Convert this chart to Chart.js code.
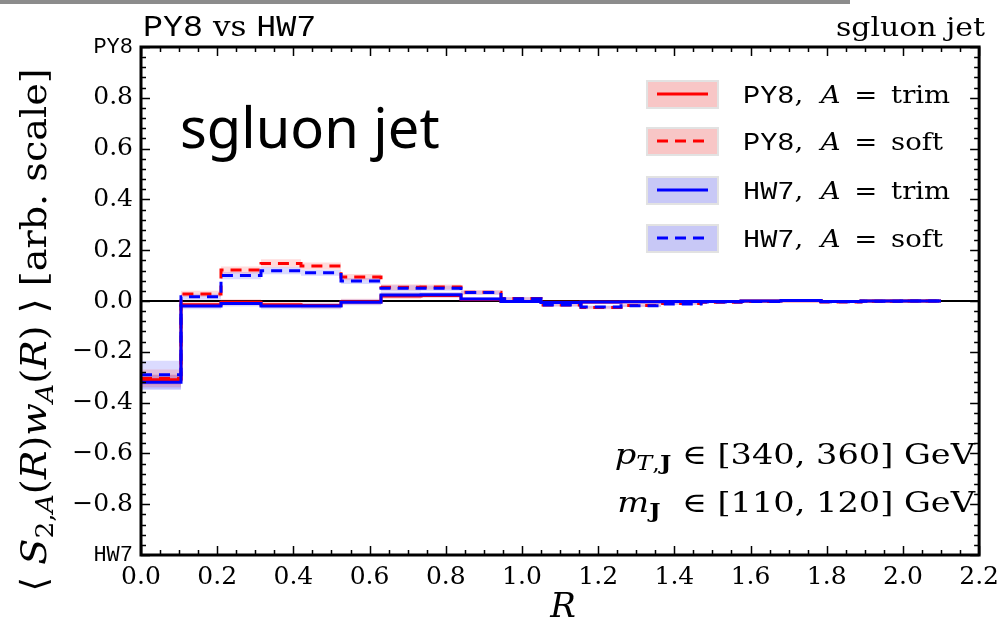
<!DOCTYPE html>
<html>
<head>
<meta charset="utf-8">
<title>sgluon jet</title>
<script src="https://cdn.jsdelivr.net/npm/chart.js@4.4.1/dist/chart.umd.min.js"></script>
<style>
  body { margin: 0; background: #fff; }
  canvas { display: block; }
</style>
</head>
<body>
<canvas id="sgluonChart" width="1006" height="629"></canvas>
<script>
// Bordes de los bins en R
const binEdges = [0, 0.105, 0.21, 0.315, 0.42, 0.525, 0.63, 0.735, 0.84, 0.945, 1.05,
                  1.155, 1.26, 1.365, 1.47, 1.575, 1.68, 1.785, 1.89, 1.995, 2.1];

// <S_2,A(R) w_A(R)> por bin
const py8Trim = [-0.31, -0.015, -0.005, -0.015, -0.018, -0.003, 0.02, 0.022, 0.006, -0.002,
                 -0.005, -0.004, -0.003, -0.002, -0.002, 0, 0.001, -0.002, 0, 0];
const py8Soft = [-0.305, 0.028, 0.122, 0.148, 0.138, 0.094, 0.054, 0.055, 0.034, 0.01,
                 -0.016, -0.026, -0.018, -0.01, -0.005, -0.002, 0.002, -0.004, -0.001, 0];
const hw7Trim = [-0.32, -0.02, -0.01, -0.02, -0.02, -0.005, 0.024, 0.025, 0.008, -0.002,
                 -0.006, -0.004, -0.003, -0.002, -0.002, 0, 0.002, -0.002, 0, 0];
const hw7Soft = [-0.29, 0.017, 0.1, 0.119, 0.111, 0.079, 0.05, 0.05, 0.033, 0.009,
                 -0.016, -0.024, -0.019, -0.012, -0.004, -0.002, 0.002, -0.003, -0.001, 0];

// Incertidumbres (mitad de la banda)
const py8TrimErr = [0.02, 0.012, 0.012, 0.012, 0.012, 0.012, 0.012, 0.01, 0.008, 0.006,
                    0.006, 0.005, 0.005, 0.004, 0.004, 0.003, 0.003, 0.003, 0.002, 0.002];
const py8SoftErr = [0.035, 0.012, 0.014, 0.016, 0.014, 0.012, 0.012, 0.01, 0.008, 0.006,
                    0.006, 0.006, 0.005, 0.004, 0.004, 0.003, 0.003, 0.003, 0.002, 0.002];
const hw7TrimErr = [0.03, 0.012, 0.012, 0.012, 0.012, 0.012, 0.012, 0.01, 0.008, 0.006,
                    0.006, 0.005, 0.005, 0.004, 0.004, 0.003, 0.003, 0.003, 0.002, 0.002];
const hw7SoftErr = [0.055, 0.012, 0.014, 0.014, 0.012, 0.012, 0.012, 0.01, 0.008, 0.006,
                    0.006, 0.006, 0.005, 0.004, 0.004, 0.003, 0.003, 0.003, 0.002, 0.002];

// Etiquetas
const generators = ['PY8', 'PY8', 'HW7', 'HW7'];
const grooming = ['trim', 'soft', 'trim', 'soft'];
const yEndLabels = ['HW7', 'PY8'];

const RED = '#ff0000';
const BLUE = '#0000ff';
const DASH = [11, 7];

const SERIF = '"DejaVu Serif"';
const MONO = '"Liberation Mono"';
const serif = s => s + 'px ' + SERIF;
const italic = s => 'italic ' + s + 'px ' + SERIF;
const bold = s => 'bold ' + s + 'px ' + SERIF;
const mono = s => s + 'px ' + MONO;

function stepPoints(values) {
    return binEdges.map((x, i) => ({ x: x, y: values[Math.min(i, values.length - 1)] }));
}

function shifted(values, errs, sign) {
    return values.map((v, i) => v + sign * errs[i]);
}

// Banda: dataset inferior + superior rellenado hasta el anterior
function band(values, errs, color) {
    return [
        { data: stepPoints(shifted(values, errs, -1)), borderColor: 'transparent', borderWidth: 0, fill: false, order: 10 },
        { data: stepPoints(shifted(values, errs, 1)), borderColor: 'transparent', borderWidth: 0, fill: '-1', backgroundColor: color, order: 10 }
    ];
}

function fmt(v) {
    if (Math.abs(v) < 1e-9) v = 0;
    return v.toFixed(1).replace('-', '\u2212');
}

// Texto con varias fuentes en una misma línea
function drawRuns(ctx, runs, x, y, align, sx) {
    sx = sx || 1;
    let w = 0;
    runs.forEach(r => { ctx.font = r.f; w += ctx.measureText(r.t).width; });
    let start = x;
    if (align === 'right') start = x - w * sx;
    if (align === 'center') start = x - w * sx / 2;
    ctx.save();
    ctx.translate(start, y);
    ctx.scale(sx, 1);
    ctx.textAlign = 'left';
    ctx.textBaseline = 'alphabetic';
    let cx = 0;
    runs.forEach(r => {
        ctx.font = r.f;
        ctx.fillText(r.t, cx, r.dy || 0);
        cx += ctx.measureText(r.t).width;
    });
    ctx.restore();
}

const decor = {
    id: 'decor',
    afterDraw(chart) {
        const ctx = chart.ctx;
        const a = chart.chartArea;
        const xs = chart.scales.x;
        const ys = chart.scales.y;

        ctx.save();
        ctx.fillStyle = '#8c8c8c';
        ctx.fillRect(0, 0, 850, 4);

        // Marcas hacia dentro en los cuatro lados
        ctx.strokeStyle = '#000';
        ctx.lineWidth = 1.5;
        ctx.beginPath();
        for (let i = 0; i <= 44; i++) {
            const px = Math.round(xs.getPixelForValue(i * 0.05)) + 0.5;
            const len = i % 4 === 0 ? 9 : 5;
            ctx.moveTo(px, a.bottom); ctx.lineTo(px, a.bottom - len);
            ctx.moveTo(px, a.top); ctx.lineTo(px, a.top + len);
        }
        for (let j = 0; j <= 50; j++) {
            const py = Math.round(ys.getPixelForValue(-1 + j * 0.04)) + 0.5;
            const len = j % 5 === 0 ? 9 : 5;
            ctx.moveTo(a.left, py); ctx.lineTo(a.left + len, py);
            ctx.moveTo(a.right, py); ctx.lineTo(a.right - len, py);
        }
        ctx.stroke();
        ctx.lineWidth = 3;
        ctx.strokeRect(a.left, a.top, a.right - a.left, a.bottom - a.top);

        ctx.fillStyle = '#000';

        // Títulos superiores
        drawRuns(ctx, [{ t: 'PY8', f: mono(29) }, { t: ' vs ', f: serif(27) }, { t: 'HW7', f: mono(29) }], 143, 36, 'left', 1.15);
        drawRuns(ctx, [{ t: 'sgluon jet', f: serif(26) }], 985, 36, 'right', 1.15);

        ctx.font = '56px "Noto Sans"';
        ctx.fillText('sgluon jet', 180, 148);

        // Leyenda
        const rows = [94, 141, 190, 238];
        rows.forEach((cy, k) => {
            const isPy = generators[k] === 'PY8';
            ctx.fillStyle = isPy ? '#f8c6c6' : '#c8c8f6';
            ctx.fillRect(647, cy - 13, 71, 27);
            ctx.strokeStyle = '#e2e2e2';
            ctx.lineWidth = 2;
            ctx.strokeRect(647, cy - 13, 71, 27);
            ctx.strokeStyle = isPy ? RED : BLUE;
            ctx.lineWidth = 3;
            ctx.setLineDash(grooming[k] === 'soft' ? DASH : []);
            ctx.beginPath();
            ctx.moveTo(657, cy); ctx.lineTo(708, cy);
            ctx.stroke();
            ctx.setLineDash([]);
            ctx.fillStyle = '#000';
            drawRuns(ctx, [
                { t: generators[k], f: mono(26) },
                { t: ',  ', f: serif(25) },
                { t: 'A', f: italic(25) },
                { t: '\u2002=\u2002', f: serif(25) },
                { t: grooming[k], f: serif(25) }
            ], 743, cy + 9, 'left', 1.1);
        });

        // Cortes cinemáticos
        drawRuns(ctx, [
            { t: 'p', f: italic(28) },
            { t: 'T', f: italic(20), dy: 6 },
            { t: ',', f: serif(20), dy: 6 },
            { t: 'J', f: bold(20), dy: 6 },
            { t: ' \u2208 [340, 360] GeV', f: serif(28) }
        ], 975, 464, 'right', 1.2);
        drawRuns(ctx, [
            { t: 'm', f: italic(28) },
            { t: 'J', f: bold(20), dy: 6 },
            { t: '  \u2208 [110, 120] GeV', f: serif(28) }
        ], 975, 512, 'right', 1.2);

        // Título del eje y
        ctx.save();
        ctx.translate(46, 330);
        ctx.rotate(-Math.PI / 2);
        drawRuns(ctx, [
            { t: '\u27E8 ', f: serif(36) },
            { t: 'S', f: italic(36) },
            { t: '2,', f: serif(25), dy: 7 },
            { t: 'A', f: italic(25), dy: 7 },
            { t: '(', f: serif(36) },
            { t: 'R', f: italic(36) },
            { t: ')', f: serif(36) },
            { t: 'w', f: italic(36) },
            { t: 'A', f: italic(25), dy: 7 },
            { t: '(', f: serif(36) },
            { t: 'R', f: italic(36) },
            { t: ')', f: serif(36) },
            { t: ' \u27E9 [arb. scale]', f: serif(36) }
        ], 0, 0, 'center', 1.06);
        ctx.restore();

        // Título del eje x
        drawRuns(ctx, [{ t: 'R', f: italic(34) }], 563, 617, 'center', 1);
        ctx.restore();
    }
};

function createChart() {
    const ctx = document.getElementById('sgluonChart').getContext('2d');
    const datasets = [
        ...band(py8Trim, py8TrimErr, 'rgba(255, 0, 0, 0.14)'),
        ...band(py8Soft, py8SoftErr, 'rgba(255, 0, 0, 0.14)'),
        ...band(hw7Trim, hw7TrimErr, 'rgba(0, 0, 255, 0.14)'),
        ...band(hw7Soft, hw7SoftErr, 'rgba(0, 0, 255, 0.14)'),
        { data: stepPoints(py8Trim), borderColor: RED, borderWidth: 3, order: 4 },
        { data: stepPoints(py8Soft), borderColor: RED, borderWidth: 3, borderDash: DASH, order: 3 },
        { data: stepPoints(hw7Trim), borderColor: BLUE, borderWidth: 3, order: 2 },
        { data: stepPoints(hw7Soft), borderColor: BLUE, borderWidth: 3, borderDash: DASH, order: 1 }
    ];
    datasets.forEach(d => { d.stepped = true; d.pointRadius = 0; });

    new Chart(ctx, {
        type: 'line',
        data: { datasets: datasets },
        options: {
            responsive: false,
            animation: false,
            devicePixelRatio: 1,
            layout: { padding: { top: 47, right: 19, left: 0, bottom: 0 } },
            plugins: { legend: { display: false }, tooltip: { enabled: false } },
            scales: {
                x: {
                    type: 'linear',
                    min: 0,
                    max: 2.2,
                    border: { display: false },
                    grid: { display: false, drawTicks: false },
                    ticks: {
                        stepSize: 0.2,
                        padding: 7,
                        color: '#000',
                        maxRotation: 0,
                        autoSkip: false,
                        font: { family: SERIF, size: 25 },
                        callback: v => fmt(v)
                    },
                    afterFit: s => { s.height = 74; }
                },
                y: {
                    min: -1,
                    max: 1,
                    border: { display: false },
                    grid: {
                        drawTicks: false,
                        lineWidth: 2,
                        color: c => (c.tick && Math.abs(c.tick.value) < 1e-9) ? '#000' : 'transparent'
                    },
                    ticks: {
                        stepSize: 0.2,
                        padding: 8,
                        color: '#000',
                        autoSkip: false,
                        font: c => {
                            const v = c.tick ? c.tick.value : 0;
                            return Math.abs(Math.abs(v) - 1) < 1e-9
                                ? { family: MONO, size: 22 }
                                : { family: SERIF, size: 25 };
                        },
                        callback: v => {
                            if (Math.abs(v - 1) < 1e-9) return yEndLabels[1];
                            if (Math.abs(v + 1) < 1e-9) return yEndLabels[0];
                            return fmt(v);
                        }
                    },
                    afterFit: s => { s.width = 141; }
                }
            }
        },
        plugins: [decor]
    });
}

document.addEventListener('DOMContentLoaded', function () {
    createChart();
});
</script>
</body>
</html>
